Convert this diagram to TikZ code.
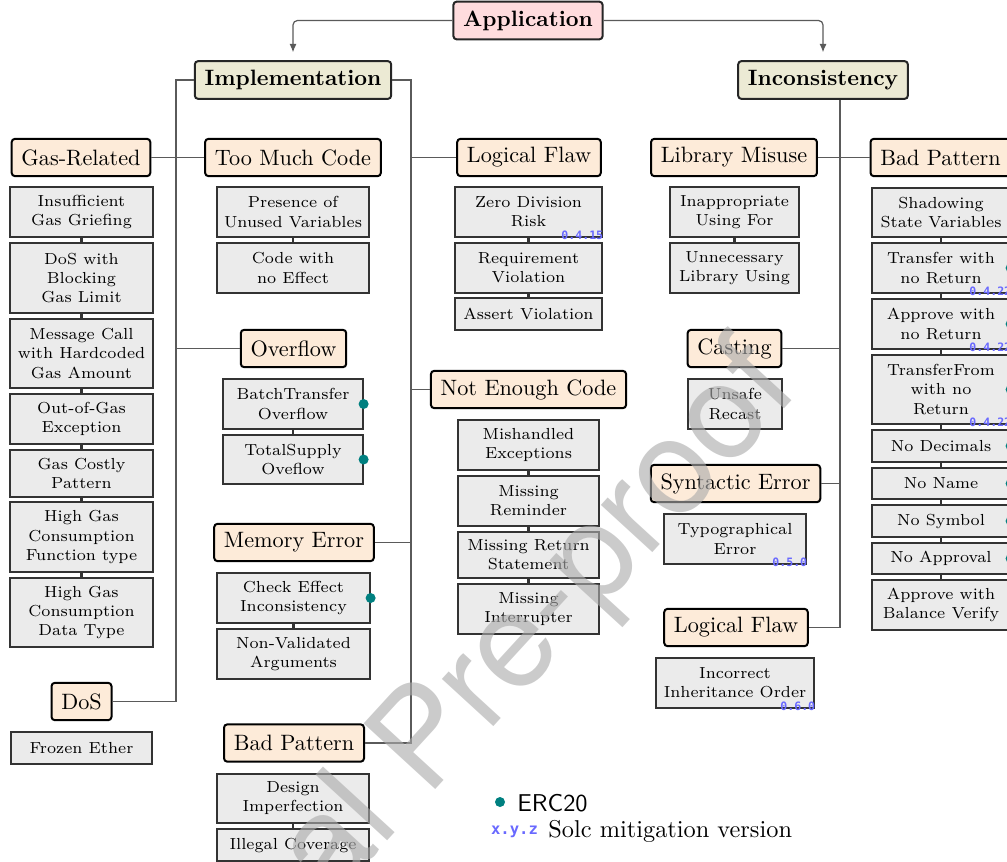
\documentclass[tikz,border=0pt]{standalone}
\usepackage{fontspec}
\usetikzlibrary{arrows.meta,calc}
\newfontfamily\wmfont{TeX Gyre Heros}
\newfontfamily\verfont{DejaVu Sans Mono}
\definecolor{appfill}{RGB}{255,220,222}
\definecolor{topfill}{RGB}{236,234,212}
\definecolor{catfill}{RGB}{253,235,217}
\definecolor{subfill}{RGB}{235,235,235}
\definecolor{erc}{RGB}{0,128,128}
\definecolor{verblue}{RGB}{105,105,255}
\definecolor{linegray}{RGB}{90,90,90}
\begin{document}
\begin{tikzpicture}[x=0.45pt,y=-0.45pt,
 topbox/.style={draw=black!85, line width=0.9pt, rounded corners=1.5pt, fill=topfill, font=\bfseries, minimum height=17pt, inner xsep=4.4pt, inner ysep=0pt},
 catbox/.style={draw=black, line width=0.9pt, rounded corners=1.5pt, fill=catfill, font=\fontsize{10}{12}\selectfont, minimum height=16.8pt, inner xsep=4.4pt, inner ysep=0pt},
 subbox/.style 2 args={draw=black!80, line width=0.55pt, fill=subfill, font=\fontsize{7.2}{8.6}\selectfont, align=center, inner sep=0pt, minimum width=#1*0.45pt, minimum height=#2*0.45pt},
 sublink/.style={draw=black!80, line width=1pt},
 trunkline/.style={draw=linegray, line width=0.55pt},
 arrline/.style={trunkline, rounded corners=2pt, -{Latex[length=3.8pt,width=3.2pt]}, shorten >=3.5pt},
 ercdot/.style={circle, fill=erc, inner sep=0pt, minimum size=4.5pt},
 verlabel/.style={font=\fontsize{5.2}{6}\verfont\bfseries, text=verblue, inner sep=0pt, anchor=east},
 wmark/.style={font=\fontsize{60}{60}\wmfont, text=black!33, text opacity=0.62, inner sep=0pt}
]
\useasboundingbox (0,0) rectangle (1007,861);
\clip (0,0) rectangle (1007,861);

% top level
\node[topbox, fill=appfill] (app) at (528,20.5) {Application};
\node[topbox] (impl) at (293,80) {Implementation};
\node[topbox] (inc) at (823,80) {Inconsistency};

% categories
\node[catbox] (gas) at (81,157.5) {Gas-Related};
\node[catbox] (tmc) at (293,157.5) {Too Much Code};
\node[catbox] (lf1) at (529,157.5) {Logical Flaw};
\node[catbox] (lm) at (734,157.5) {Library Misuse};
\node[catbox] (bp2) at (940.5,157.5) {Bad Pattern};
\node[catbox] (ovf) at (293.5,348.5) {Overflow};
\node[catbox] (nec) at (528.5,389.5) {Not Enough Code};
\node[catbox] (cast) at (734.5,348.5) {Casting};
\node[catbox] (mem) at (294,542.5) {Memory Error};
\node[catbox] (syn) at (735.5,483.5) {Syntactic Error};
\node[catbox] (lf2) at (736,627.5) {Logical Flaw};
\node[catbox] (dos) at (81.5,701.5) {DoS};
\node[catbox] (bp1) at (294,743) {Bad Pattern};

% connectors
\draw[arrline] (app.west) -| (impl.north);
\draw[arrline] (app.east) -| (inc.north);
\coordinate (ltrunk) at (176,0);
\coordinate (rtrunk) at (411,0);
\coordinate (itrunk) at (840,0);
\draw[trunkline] (impl.west) -| (ltrunk |- dos.east) -- (dos.east);
\draw[trunkline] (gas.east) -- (tmc.west);
\draw[trunkline] (ltrunk |- ovf.west) -- (ovf.west);
\draw[trunkline] (impl.east) -| (rtrunk |- bp1.east) -- (bp1.east);
\draw[trunkline] (rtrunk |- lf1.west) -- (lf1.west);
\draw[trunkline] (rtrunk |- nec.west) -- (nec.west);
\draw[trunkline] (mem.east) -- (rtrunk |- mem.east);
\draw[trunkline] (itrunk |- inc.south) -- (itrunk |- lf2.east) -- (lf2.east);
\draw[trunkline] (lm.east) -- (bp2.west);
\draw[trunkline] (cast.east) -- (itrunk |- cast.east);
\draw[trunkline] (syn.east) -- (itrunk |- syn.east);

% Gas-Related column
\node[subbox={143}{50}] (g1) at (81.5,212) {Insufficient\\Gas Griefing};
\node[subbox={143}{70}] (g2) at (81.5,278) {DoS with\\Blocking\\Gas Limit};
\node[subbox={143}{69}] (g3) at (81.5,353.5) {Message Call\\with Hardcoded\\Gas Amount};
\node[subbox={143}{50}] (g4) at (81.5,419) {Out-of-Gas\\Exception};
\node[subbox={143}{47}] (g5) at (81.5,473.5) {Gas Costly\\Pattern};
\node[subbox={143}{70}] (g6) at (81.5,537) {High Gas\\Consumption\\Function type};
\node[subbox={143}{69}] (g7) at (81.5,612.5) {High Gas\\Consumption\\Data Type};
\draw[sublink] (g1.south) -- (g2.north);
\draw[sublink] (g2.south) -- (g3.north);
\draw[sublink] (g3.south) -- (g4.north);
\draw[sublink] (g4.south) -- (g5.north);
\draw[sublink] (g5.south) -- (g6.north);
\draw[sublink] (g6.south) -- (g7.north);
\node[subbox={141}{32}] (fe) at (81.5,748) {Frozen Ether};

% Too Much Code
\node[subbox={152}{50}] (t1) at (293,212) {Presence of\\Unused Variables};
\node[subbox={152}{50}] (t2) at (293,268) {Code with\\no Effect};
\draw[sublink] (t1.south) -- (t2.north);

% Overflow
\node[subbox={140}{50}] (o1) at (293,404) {BatchTransfer\\Overflow};
\node[subbox={140}{49}] (o2) at (293,459.5) {TotalSupply\\Oveflow};
\draw[sublink] (o1.south) -- (o2.north);
\node[ercdot] (o1d) at (o1.east) {};
\node[ercdot] (o2d) at (o2.east) {};

% Memory Error
\node[subbox={153}{50}] (m1) at (293.5,598) {Check Effect\\Inconsistency};
\node[subbox={153}{50}] (m2) at (293.5,654) {Non-Validated\\Arguments};
\draw[sublink] (m1.south) -- (m2.north);
\node[ercdot] (m1d) at (m1.east) {};

% Bad Pattern (implementation)
\node[subbox={152}{49}] (b1) at (293,798.5) {Design\\Imperfection};
\node[subbox={152}{32}] (b2) at (293,845) {Illegal Coverage};
\draw[sublink] (b1.south) -- (b2.north);

% Logical Flaw (implementation)
\node[subbox={147}{50}] (l1) at (528.5,212) {Zero Division\\Risk};
\node[subbox={147}{50}] (l2) at (528.5,268) {Requirement\\Violation};
\node[subbox={147}{32}] (l3) at (528.5,314) {Assert Violation};
\draw[sublink] (l1.south) -- (l2.north);
\draw[sublink] (l2.south) -- (l3.north);
\node[verlabel] (l1v) at ($(l1.south east)+(1,-2.5)$) {0.4.15};

% Not Enough Code
\node[subbox={141}{50}] (n1) at (528.5,445) {Mishandled\\Exceptions};
\node[subbox={141}{50}] (n2) at (528.5,501) {Missing\\Reminder};
\node[subbox={141}{46}] (n3) at (528.5,555) {Missing Return\\Statement};
\node[subbox={141}{50}] (n4) at (528.5,609) {Missing\\Interrupter};
\draw[sublink] (n1.south) -- (n2.north);
\draw[sublink] (n2.south) -- (n3.north);
\draw[sublink] (n3.south) -- (n4.north);

% Library Misuse
\node[subbox={129}{50}] (lm1) at (734.5,212) {Inappropriate\\Using For};
\node[subbox={129}{50}] (lm2) at (734.5,268) {Unnecessary\\Library Using};
\draw[sublink] (lm1.south) -- (lm2.north);

% Casting, Syntactic, Logical Flaw (inconsistency)
\node[subbox={94}{50}] (c1) at (735,404) {Unsafe\\Recast};
\node[subbox={142}{50}] (s1) at (735,539) {Typographical\\Error};
\node[verlabel] (s1v) at ($(s1.south east)+(1,-2.5)$) {0.5.0};
\node[subbox={158}{50}] (i1) at (735,683) {Incorrect\\Inheritance Order};
\node[verlabel] (i1v) at ($(i1.south east)+(1,-2.5)$) {0.6.0};

% Bad Pattern (inconsistency)
\node[subbox={138}{49}] (r1) at (941,212.5) {Shadowing\\State Variables};
\node[subbox={138}{50}] (r2) at (941,268) {Transfer with\\no Return};
\node[subbox={138}{50}] (r3) at (941,324) {Approve with\\no Return};
\node[subbox={138}{69}] (r4) at (941,389.5) {TransferFrom\\with no\\Return};
\node[subbox={138}{32}] (r5) at (941,446) {No Decimals};
\node[subbox={138}{31}] (r6) at (941,483.5) {No Name};
\node[subbox={138}{32}] (r7) at (941,521) {No Symbol};
\node[subbox={138}{31}] (r8) at (941,558.5) {No Approval};
\node[subbox={138}{50}] (r9) at (941,605) {Approve with\\Balance Verify};
\draw[sublink] (r1.south) -- (r2.north);
\draw[sublink] (r2.south) -- (r3.north);
\draw[sublink] (r3.south) -- (r4.north);
\draw[sublink] (r4.south) -- (r5.north);
\draw[sublink] (r5.south) -- (r6.north);
\draw[sublink] (r6.south) -- (r7.north);
\draw[sublink] (r7.south) -- (r8.north);
\draw[sublink] (r8.south) -- (r9.north);
\node[ercdot] (r2d) at (r2.east) {};
\node[ercdot] (r3d) at (r3.east) {};
\node[ercdot] (r4d) at (r4.east) {};
\node[ercdot] (r5d) at (r5.east) {};
\node[ercdot] (r6d) at (r6.east) {};
\node[ercdot] (r7d) at (r7.east) {};
\node[ercdot] (r8d) at (r8.east) {};
\node[verlabel] (r2v) at ($(r2.south east)+(1,-2.5)$) {0.4.22};
\node[verlabel] (r3v) at ($(r3.south east)+(1,-2.5)$) {0.4.22};
\node[verlabel] (r4v) at ($(r4.south east)+(1,-2.5)$) {0.4.22};

% legend
\node[ercdot] (ld) at (500,802) {};
\node[anchor=base west, inner sep=0pt, font=\fontsize{10.95}{13}\sffamily] (lerc) at (517,811) {ERC20};
\node[verlabel, anchor=center, font=\fontsize{7}{8}\verfont\bfseries] (lv) at (514.5,832) {x.y.z};
\node[anchor=base west, inner sep=0pt, font=\fontsize{10.95}{13}\selectfont] (lsolc) at (548,837) {Solc mitigation version};

% watermark
\node[wmark, rotate=47.5, anchor=base west] (wm) at (331.6,902.9) {al Pre-proof};
\end{tikzpicture}
\end{document}
